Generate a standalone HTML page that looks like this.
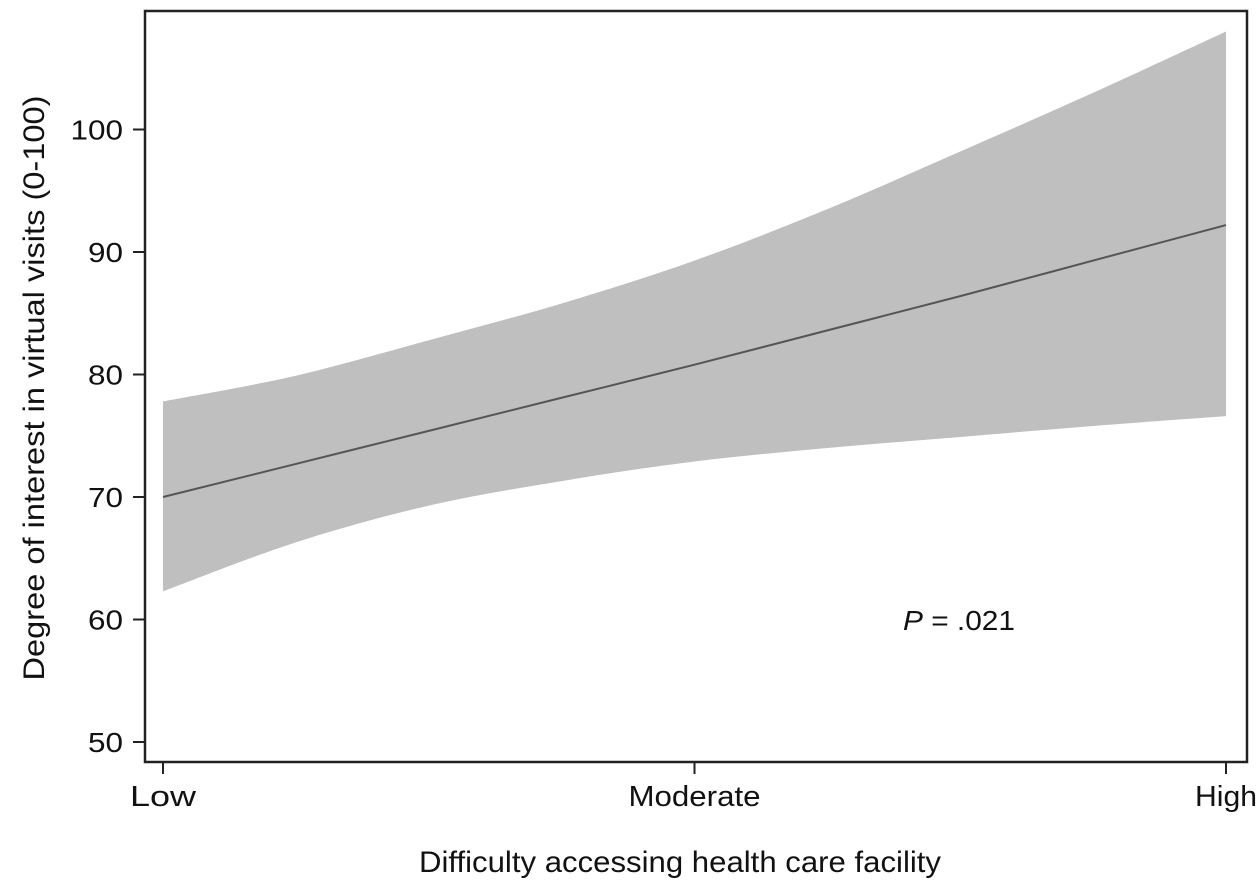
<!DOCTYPE html>
<html><head><meta charset="utf-8"><style>
body{margin:0;background:#fff;}
svg text{font-family:"Liberation Sans",Arial,sans-serif;fill:#111;}
</style></head><body>
<svg width="1260" height="884" xmlns="http://www.w3.org/2000/svg">
<g id="plot"></g>
<rect x="145" y="11" width="1102" height="751" fill="none" stroke="#222" stroke-width="2.5"/>
<g id="axes"></g>
<text x="903" y="630" font-size="28" textLength="112" lengthAdjust="spacingAndGlyphs"><tspan font-style="italic">P</tspan> = .021</text>
<text x="680" y="872" font-size="30" text-anchor="middle" textLength="522" lengthAdjust="spacingAndGlyphs">Difficulty accessing health care facility</text>
<text transform="translate(44,388) rotate(-90)" font-size="30" text-anchor="middle" textLength="585" lengthAdjust="spacingAndGlyphs">Degree of interest in virtual visits (0-100)</text>
</svg>
<script>
const xPos = [0, 0.125, 0.25, 0.375, 0.5, 0.625, 0.75, 0.875, 1];
const fitValues = [70.0, 72.7, 75.4, 78.1, 80.8, 83.6, 86.4, 89.3, 92.2];
const upperValues = [77.8, 79.9, 82.8, 85.8, 89.3, 93.5, 98.2, 103.0, 108.0];
const lowerValues = [62.3, 66.3, 69.3, 71.3, 72.9, 74.0, 74.9, 75.8, 76.6];
const yTicks = [50, 60, 70, 80, 90, 100];
const xTicks = [0, 0.5, 1];
const xTickLabels = ["Low", "Moderate", "High"];
const NS = "http://www.w3.org/2000/svg";
const labelWidths = {"Low": 66, "Moderate": 132, "High": 62};
const xs = v => 163 + v * (1226 - 163);
const ys = v => 742 - (v - 50) * 12.25;
const plot = document.getElementById('plot'), axes = document.getElementById('axes');
function smooth(pts, start) {
  let s = start ? 'M' + pts[0][0] + ',' + pts[0][1] : 'L' + pts[0][0] + ',' + pts[0][1];
  for (let i = 0; i < pts.length - 1; i++) {
    const p0 = pts[Math.max(0, i - 1)], p1 = pts[i], p2 = pts[i + 1], p3 = pts[Math.min(pts.length - 1, i + 2)];
    const c1 = [p1[0] + (p2[0] - p0[0]) / 6, p1[1] + (p2[1] - p0[1]) / 6];
    const c2 = [p2[0] - (p3[0] - p1[0]) / 6, p2[1] - (p3[1] - p1[1]) / 6];
    s += 'C' + c1 + ' ' + c2 + ' ' + p2;
  }
  return s;
}
const up = xPos.map((x, i) => [xs(x), ys(upperValues[i])]);
const lo = xPos.map((x, i) => [xs(x), ys(lowerValues[i])]).reverse();
const band = document.createElementNS(NS, 'path');
band.setAttribute('d', smooth(up, true) + smooth(lo, false) + 'Z');
band.setAttribute('fill', '#bfbfbf');


plot.appendChild(band);
const line = document.createElementNS(NS, 'path');
line.setAttribute('d', smooth(xPos.map((x, i) => [xs(x), ys(fitValues[i])]), true));
line.setAttribute('fill', 'none'); line.setAttribute('stroke', '#555'); line.setAttribute('stroke-width', '2');


plot.appendChild(line);
yTicks.forEach(t => {
  const l = document.createElementNS(NS, 'line');
  l.setAttribute('x1', 133); l.setAttribute('x2', 145); l.setAttribute('y1', ys(t)); l.setAttribute('y2', ys(t));
  l.setAttribute('stroke', '#222'); l.setAttribute('stroke-width', '2');
  
  
  axes.appendChild(l);
  const tx = document.createElementNS(NS, 'text');
  tx.setAttribute('x', 123); tx.setAttribute('y', ys(t) + 10); tx.setAttribute('font-size', '28'); tx.setAttribute('text-anchor', 'end');
  tx.setAttribute('textLength', String(t).length * 17.5); tx.setAttribute('lengthAdjust', 'spacingAndGlyphs');
  tx.textContent = t;
  
  
  axes.appendChild(tx);
});
xTicks.forEach((t, i) => {
  const l = document.createElementNS(NS, 'line');
  l.setAttribute('x1', xs(t)); l.setAttribute('x2', xs(t)); l.setAttribute('y1', 762); l.setAttribute('y2', 774);
  l.setAttribute('stroke', '#222'); l.setAttribute('stroke-width', '2');
  
  
  axes.appendChild(l);
  const tx = document.createElementNS(NS, 'text');
  tx.setAttribute('x', xs(t)); tx.setAttribute('y', 806); tx.setAttribute('font-size', '29'); tx.setAttribute('text-anchor', 'middle');
  tx.setAttribute('textLength', labelWidths[xTickLabels[i]] || xTickLabels[i].length * 16.5); tx.setAttribute('lengthAdjust', 'spacingAndGlyphs');
  tx.textContent = xTickLabels[i];
  
  
  axes.appendChild(tx);
});
</script>
</body></html>
